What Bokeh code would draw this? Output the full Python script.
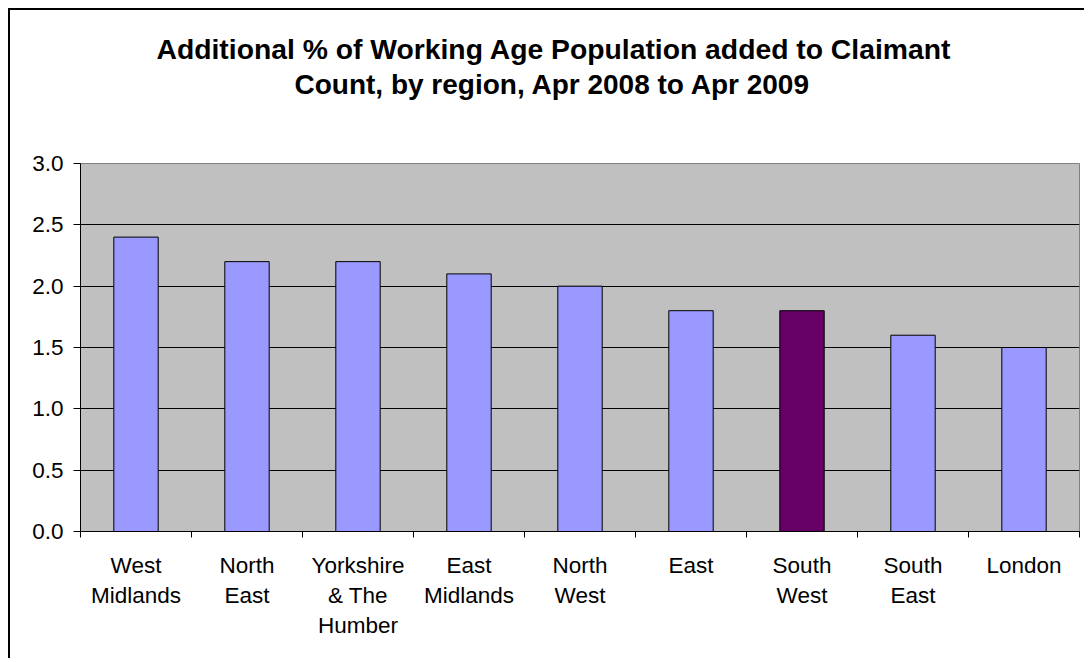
from bokeh.plotting import figure
from bokeh.models import FixedTicker, PrintfTickFormatter, Title, Range1d
from bokeh.embed import file_html
from bokeh.resources import INLINE

regions = ["West\nMidlands", "North\nEast", "Yorkshire\n& The\nHumber", "East\nMidlands",
           "North\nWest", "East", "South\nWest", "South\nEast", "London"]
values = [2.4, 2.2, 2.2, 2.1, 2.0, 1.8, 1.8, 1.6, 1.5]
highlight = "South\nWest"
y_ticks = [0.0, 0.5, 1.0, 1.5, 2.0, 2.5, 3.0]
title_lines = ["Additional % of Working Age Population added to Claimant",
               "Count, by region, Apr 2008 to Apr 2009"]

FONT = "Liberation Sans"
base_color = "#9999FF"
hi_color = "#660066"

xs = [i + 0.5 for i in range(len(regions))]
colors = [hi_color if r == highlight else base_color for r in regions]

W, H = 1076, 650
p = figure(width=W, height=H, output_backend="svg", toolbar_location=None,
           x_range=Range1d(0, len(regions)), y_range=Range1d(0, 3.0),
           min_border_left=70, min_border_right=7, min_border_top=153, min_border_bottom=129)

p.styles = {"margin-left": "8px", "margin-top": "8px",
            "border-left": "2px solid black", "border-top": "2px solid black"}

p.vbar(x=xs, top=values, width=0.4, fill_color=colors, line_color="black", line_width=1)

p.background_fill_color = "#C0C0C0"
p.outline_line_color = "#808080"
p.outline_line_width = 1

# grid
p.xgrid.visible = False
p.ygrid.ticker = FixedTicker(ticks=y_ticks[1:-1])
p.ygrid.grid_line_color = "black"
p.ygrid.grid_line_width = 1

# y axis
p.yaxis.ticker = FixedTicker(ticks=y_ticks)
p.yaxis.formatter = PrintfTickFormatter(format="%.1f")
p.yaxis.major_tick_out = 7
p.yaxis.major_tick_in = 0
p.yaxis.minor_tick_line_color = None
p.yaxis.axis_line_color = "black"
p.yaxis.major_tick_line_color = "black"
p.yaxis.major_label_text_font = FONT
p.yaxis.major_label_text_font_size = "22.5px"
p.yaxis.major_label_text_color = "black"
p.yaxis.major_label_standoff = 10

# x axis
p.xaxis.ticker = FixedTicker(ticks=xs, minor_ticks=list(range(len(regions) + 1)))
p.xaxis.major_label_overrides = {x: r for x, r in zip(xs, regions)}
p.xaxis.major_tick_out = 0
p.xaxis.major_tick_in = 0
p.xaxis.minor_tick_out = 6
p.xaxis.minor_tick_in = 0
p.xaxis.minor_tick_line_color = "black"
p.xaxis.axis_line_color = "black"
p.xaxis.major_label_text_font = FONT
p.xaxis.major_label_text_font_size = "22.5px"
p.xaxis.major_label_text_color = "black"
p.xaxis.major_label_text_line_height = 1.2
p.xaxis.major_label_standoff = 15

# title: spacer nearest the plot area, then the two lines
p.add_layout(Title(text=" ", text_font_size="1px", standoff=60), "above")
p.add_layout(Title(text=title_lines[1], align="left", offset=214, standoff=2,
                   text_font=FONT, text_font_size="28px", text_font_style="bold",
                   text_color="black"), "above")
p.add_layout(Title(text=title_lines[0], align="left", offset=76, standoff=2,
                   text_font=FONT, text_font_size="28.3px", text_font_style="bold",
                   text_color="black"), "above")

open("out.html", "w").write(file_html(p, INLINE))
